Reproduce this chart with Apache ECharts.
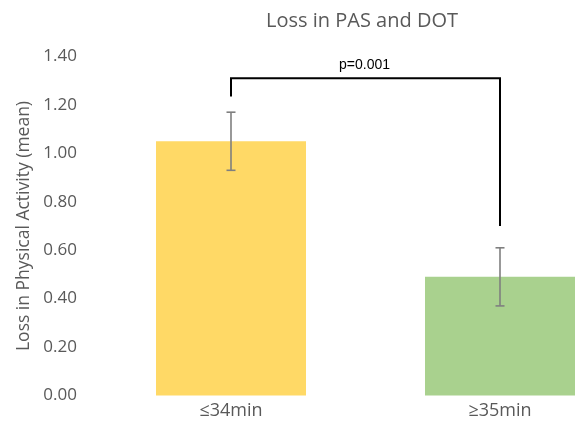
<!DOCTYPE html>
<html>
<head>
<meta charset="utf-8">
<script src="https://cdn.jsdelivr.net/npm/echarts@6/dist/echarts.min.js"></script>
<style>
  html, body { margin: 0; padding: 0; background: #fff; }
  #main { width: 580px; height: 423px; }
</style>
</head>
<body>
<div id="main"></div>
<script>
// 数据
var categories = ['≤34min', '≥35min'];
var means = [1.05, 0.49];
var errors = [0.12, 0.12];
var barColors = ['#FFD966', '#A9D18E'];
var yTicks = { min: 0, max: 1.4, interval: 0.2 };
// 显著性括号: 左腿底, 右腿底, 顶部, 文字
var bracketLegs = [1.235, 0.70];
var bracketTop = 1.31;
var bracketLabel = 'p=0.001';

var chart = echarts.init(document.getElementById('main'));

var barData = means.map(function (v, i) {
    return { value: v, itemStyle: { color: barColors[i] } };
});
var errData = means.map(function (v, i) {
    return [i, v + errors[i], v - errors[i]];
});

// 网格从第一根柱子中心到第二根柱子中心 (原图右侧被裁掉)
var option = {
    animation: false,
    title: {
        text: 'Loss in PAS and DOT',
        left: 357,
        top: 6,
        textAlign: 'center',
        textStyle: { color: '#595959', fontSize: 20, fontWeight: 'normal', fontFamily: 'Open Sans' }
    },
    grid: { left: 231, top: 56.5, width: 269, height: 339 },
    xAxis: {
        type: 'category',
        data: categories,
        boundaryGap: false,
        axisLine: { show: false },
        axisTick: { show: false },
        splitLine: { show: false },
        axisLabel: { color: '#595959', fontSize: 18, fontFamily: 'Open Sans', margin: 6 }
    },
    yAxis: {
        type: 'value',
        min: yTicks.min,
        max: yTicks.max,
        interval: yTicks.interval,
        name: 'Loss in Physical Activity (mean)',
        nameLocation: 'middle',
        nameGap: 198,
        nameTextStyle: { color: '#595959', fontSize: 17.5, fontFamily: 'Open Sans' },
        axisLine: { show: false },
        axisTick: { show: false },
        splitLine: { show: false },
        axisLabel: {
            color: '#595959', fontSize: 17, fontFamily: 'Open Sans', margin: 154,
            formatter: function (v) { return v.toFixed(2); }
        }
    },
    series: [{
        type: 'bar',
        data: barData,
        barWidth: 150,
        clip: false
    }, {
        // 误差线
        type: 'custom',
        data: errData,
        z: 5,
        clip: false,
        renderItem: function (params, api) {
            var hi = api.coord([api.value(0), api.value(1)]);
            var lo = api.coord([api.value(0), api.value(2)]);
            var w = 4.5;
            var st = { stroke: '#7F7F7F', lineWidth: 1.6 };
            return {
                type: 'group',
                children: [
                    { type: 'line', shape: { x1: hi[0], y1: hi[1], x2: lo[0], y2: lo[1] }, style: st },
                    { type: 'line', shape: { x1: hi[0] - w, y1: hi[1], x2: hi[0] + w, y2: hi[1] }, style: st },
                    { type: 'line', shape: { x1: lo[0] - w, y1: lo[1], x2: lo[0] + w, y2: lo[1] }, style: st }
                ]
            };
        }
    }, {
        // 括号
        type: 'custom',
        data: [[0, 1]],
        z: 6,
        clip: false,
        renderItem: function (params, api) {
            var a = api.coord([0, bracketLegs[0]]);
            var b = api.coord([1, bracketLegs[1]]);
            var t = api.coord([0, bracketTop]);
            return {
                type: 'group',
                children: [{
                    type: 'polyline',
                    shape: { points: [[a[0], a[1]], [a[0], t[1]], [b[0], t[1]], [b[0], b[1]]] },
                    style: { stroke: '#000', lineWidth: 2, fill: null }
                }, {
                    type: 'text',
                    style: {
                        x: (a[0] + b[0]) / 2 - 1, y: t[1] - 6,
                        text: bracketLabel,
                        fill: '#000',
                        font: '14px "Liberation Sans", Arial, sans-serif',
                        align: 'center', verticalAlign: 'bottom'
                    }
                }]
            };
        }
    }]
};

chart.setOption(option);
</script>
</body>
</html>
